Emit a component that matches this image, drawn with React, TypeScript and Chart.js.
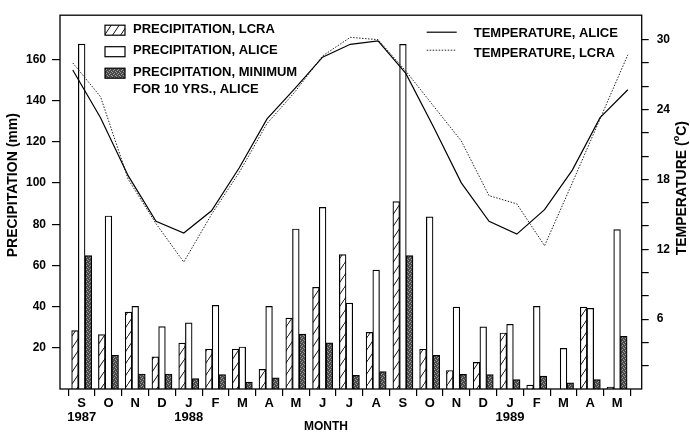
import { useEffect, useRef } from 'react';
import { Chart, registerables } from 'chart.js';

Chart.register(...registerables);

// Months from September 1987 through May 1989
const MONTHS = ['S', 'O', 'N', 'D', 'J', 'F', 'M', 'A', 'M', 'J', 'J', 'A', 'S', 'O', 'N', 'D', 'J', 'F', 'M', 'A', 'M'];
const YEARS = ['1987', '', '', '', '1988', '', '', '', '', '', '', '', '', '', '', '', '1989', '', '', '', ''];

// Monthly precipitation (mm)
const PRECIP_LCRA = [28.4, 26.4, 37.3, 15.6, 22.3, 19.3, 19.3, 9.5, 34.4, 49.4, 65.3, 27.5, 91, 19.3, 9.0, 12.9, 27.2, 1.9, 0, 39.8, 0.9];
const PRECIP_ALICE = [167.5, 84, 40.1, 30.3, 32.1, 40.6, 20.4, 40.1, 77.7, 88.2, 41.7, 57.7, 167.3, 83.6, 39.8, 30.2, 31.4, 40.1, 19.7, 39.2, 77.4];
const PRECIP_MIN_ALICE = [64.8, 16.4, 7.3, 7.3, 5.0, 7.0, 3.3, 5.4, 26.7, 22.4, 6.6, 8.4, 64.8, 16.3, 7.1, 7.0, 4.6, 6.3, 3.0, 4.6, 25.6];

// Monthly mean temperature (°C)
const TEMP_ALICE = [27.4, 23.3, 18.3, 14.4, 13.4, 15.3, 19.0, 23.2, 25.8, 28.5, 29.6, 29.9, 27.1, 22.5, 17.7, 14.4, 13.3, 15.4, 18.8, 23.3, 25.7];
const TEMP_LCRA = [28.0, 25.1, 18.0, 14.2, 10.9, 15.0, 18.6, 22.8, 25.5, 28.6, 30.2, 30.0, 27.3, 24.3, 21.3, 16.6, 15.9, 12.3, 17.7, 23.2, 28.7];

// Axis ticks
const PRECIP_TICKS = [20, 40, 60, 80, 100, 120, 140, 160];
const TEMP_TICKS = [2, 4, 6, 8, 10, 12, 14, 16, 18, 20, 22, 24, 26, 28, 30];
const TEMP_LABEL_STEP = 6;

// Key texts
const KEY_LCRA = ['PRECIPITATION, LCRA'];
const KEY_ALICE = ['PRECIPITATION, ALICE'];
const KEY_MIN = ['PRECIPITATION, MINIMUM', 'FOR 10 YRS., ALICE'];
const KEY_TEMP_ALICE = 'TEMPERATURE, ALICE';
const KEY_TEMP_LCRA = 'TEMPERATURE, LCRA';

const FONT = '"Liberation Sans", Arial, Helvetica, sans-serif';

// Month axis range; each bar of a monthly group sits on its own copy of
// this range, shifted by one bar width.
const X_MIN = -0.81;
const X_MAX = 20.92;
const BAR_SHIFT = 0.25;

function makeHatch(): CanvasPattern | string {
  const w = 8, h = 12;
  const c = document.createElement('canvas');
  c.width = w; c.height = h;
  const g = c.getContext('2d');
  if (!g) return '#fff';
  g.fillStyle = '#fff';
  g.fillRect(0, 0, w, h);
  g.strokeStyle = '#111';
  g.lineWidth = 1;
  g.beginPath();
  g.moveTo(-1, h + h / w);
  g.lineTo(w + 1, -h / w);
  g.stroke();
  return g.createPattern(c, 'repeat') || '#fff';
}

function makeStipple(): CanvasPattern | string {
  const c = document.createElement('canvas');
  c.width = 4; c.height = 4;
  const g = c.getContext('2d');
  if (!g) return '#555';
  g.fillStyle = '#4a4a4a';
  g.fillRect(0, 0, 4, 4);
  g.fillStyle = '#9a9a9a';
  [[0, 0], [2, 1], [1, 2], [3, 3]].forEach(([x, y]) => g.fillRect(x, y, 1, 1));
  return g.createPattern(c, 'repeat') || '#555';
}

const toPoints = (vals: number[]) => vals.map((y, x) => ({ x, y }));

const framePlugin = {
  id: 'frame',
  afterDatasetsDraw(chart: any) {
    const { ctx, chartArea: a } = chart;
    ctx.save();
    ctx.strokeStyle = '#000';
    ctx.lineWidth = 1.3;
    ctx.strokeRect(a.left, a.top, a.right - a.left, a.bottom - a.top);
    ctx.restore();
  },
};

type Part = { t: string; size: number; dy: number };

function drawParts(ctx: CanvasRenderingContext2D, parts: Part[], cx: number, cy: number, rotated: boolean) {
  ctx.save();
  ctx.translate(cx, cy);
  if (rotated) ctx.rotate(-Math.PI / 2);
  ctx.textBaseline = 'middle';
  ctx.textAlign = 'left';
  ctx.fillStyle = '#000';
  let total = 0;
  parts.forEach((p) => {
    ctx.font = `bold ${p.size}px ${FONT}`;
    total += ctx.measureText(p.t).width;
  });
  let x = -total / 2;
  parts.forEach((p) => {
    ctx.font = `bold ${p.size}px ${FONT}`;
    ctx.fillText(p.t, x, p.dy);
    x += ctx.measureText(p.t).width;
  });
  ctx.restore();
}

const titlesPlugin = {
  id: 'axisTitles',
  afterDraw(chart: any) {
    const { ctx, chartArea: a } = chart;
    drawParts(ctx, [{ t: 'PRECIPITATION (mm)', size: 14, dy: 0 }], a.left - 47, a.top + 170, true);
    drawParts(
      ctx,
      [
        { t: 'TEMPERATURE (', size: 14, dy: 0 },
        { t: 'o', size: 9, dy: -5 },
        { t: 'C)', size: 14, dy: 0 },
      ],
      a.right + 40,
      a.top + 173,
      true
    );
    drawParts(ctx, [{ t: 'MONTH', size: 12, dy: 0 }], a.left + 266, a.bottom + 38, false);
  },
};

const keyPlugin = {
  id: 'keyBoxes',
  afterDraw(chart: any) {
    const { ctx, chartArea: a } = chart;
    const ds = chart.data.datasets;
    ctx.save();
    ctx.font = `bold 13px ${FONT}`;
    ctx.textBaseline = 'middle';
    ctx.textAlign = 'left';
    const boxX = a.left + 45;
    const textX = a.left + 73;
    const rows = [
      { d: ds[0], y: a.top + 15, lines: KEY_LCRA },
      { d: ds[1], y: a.top + 36.5, lines: KEY_ALICE },
      { d: ds[2], y: a.top + 58, lines: KEY_MIN },
    ];
    rows.forEach((r) => {
      ctx.fillStyle = r.d.backgroundColor;
      ctx.fillRect(boxX, r.y - 5, 20, 10);
      ctx.strokeStyle = '#000';
      ctx.lineWidth = 1.2;
      ctx.strokeRect(boxX, r.y - 5, 20, 10);
      ctx.fillStyle = '#000';
      r.lines.forEach((ln, i) => ctx.fillText(ln, textX, r.y - 1 + i * 17));
    });
    const lineRows = [
      { d: ds[3], y: a.top + 18, text: KEY_TEMP_ALICE },
      { d: ds[4], y: a.top + 38, text: KEY_TEMP_LCRA },
    ];
    lineRows.forEach((r, i) => {
      ctx.save();
      ctx.strokeStyle = r.d.borderColor;
      ctx.lineWidth = r.d.borderWidth;
      ctx.setLineDash(r.d.borderDash || []);
      ctx.beginPath();
      ctx.moveTo(a.right - 215, r.y - 1 - i * 2);
      ctx.lineTo(a.right - 185, r.y - 1 - i * 2);
      ctx.stroke();
      ctx.restore();
      ctx.fillStyle = '#000';
      ctx.fillText(r.text, a.right - 168, r.y);
    });
    ctx.restore();
  },
};

export default function App() {
  const ref = useRef<HTMLCanvasElement>(null);

  useEffect(() => {
    const canvas = ref.current;
    if (!canvas) return;
    const tickFont = { family: FONT, size: 12, weight: 'bold' as const };
    const hiddenMonthAxis = (shift: number) => ({
      type: 'linear',
      display: false,
      offset: false,
      bounds: 'data',
      min: X_MIN + shift,
      max: X_MAX + shift,
    });
    const chart = new Chart(canvas, {
      type: 'bar',
      data: {
        datasets: [
          {
            type: 'bar',
            label: KEY_LCRA.join(' '),
            data: toPoints(PRECIP_LCRA),
            backgroundColor: makeHatch() as any,
            borderColor: '#000',
            borderWidth: 1.2,
            xAxisID: 'xL',
            yAxisID: 'y',
            order: 2,
          },
          {
            type: 'bar',
            label: KEY_ALICE.join(' '),
            data: toPoints(PRECIP_ALICE),
            backgroundColor: '#fff',
            borderColor: '#000',
            borderWidth: 1.2,
            xAxisID: 'x',
            yAxisID: 'y',
            order: 2,
          },
          {
            type: 'bar',
            label: KEY_MIN.join(' '),
            data: toPoints(PRECIP_MIN_ALICE),
            backgroundColor: makeStipple() as any,
            borderColor: '#000',
            borderWidth: 1.2,
            xAxisID: 'xR',
            yAxisID: 'y',
            order: 2,
          },
          {
            type: 'line',
            label: KEY_TEMP_ALICE,
            data: toPoints(TEMP_ALICE),
            borderColor: '#000',
            borderWidth: 1.2,
            pointRadius: 0,
            tension: 0,
            xAxisID: 'xT',
            yAxisID: 'yT',
            order: 1,
          },
          {
            type: 'line',
            label: KEY_TEMP_LCRA,
            data: toPoints(TEMP_LCRA),
            borderColor: '#222',
            borderWidth: 1,
            borderDash: [1.5, 1.5],
            pointRadius: 0,
            tension: 0,
            xAxisID: 'xT',
            yAxisID: 'yT',
            order: 1,
          },
        ] as any,
      },
      plugins: [framePlugin, titlesPlugin, keyPlugin],
      options: {
        responsive: false,
        animation: false,
        devicePixelRatio: 1,
        layout: { padding: { top: 6.7, left: 0, right: 0, bottom: 0 } },
        plugins: {
          legend: { display: false },
          tooltip: { enabled: false },
        },
        datasets: {
          bar: { grouped: false, barThickness: 6.7 },
        },
        scales: {
          x: {
            type: 'linear',
            position: 'bottom',
            offset: false,
            bounds: 'data',
            min: X_MIN,
            max: X_MAX,
            afterBuildTicks: (s: any) => {
              s.ticks = MONTHS.map((_, i) => ({ value: i }));
            },
            afterFit: (s: any) => {
              s.height = 44;
            },
            border: { display: false },
            grid: {
              offset: true,
              drawOnChartArea: false,
              drawTicks: true,
              tickLength: 7,
              color: '#000',
              lineWidth: 1.2,
            },
            ticks: {
              autoSkip: false,
              maxRotation: 0,
              padding: 0,
              color: '#000',
              font: { family: FONT, size: 13, weight: 'bold', lineHeight: '14px' },
              callback: (v: any) => {
                const i = Math.round(Number(v));
                return YEARS[i] ? [MONTHS[i], YEARS[i]] : MONTHS[i];
              },
            },
          },
          xL: hiddenMonthAxis(BAR_SHIFT),
          xR: hiddenMonthAxis(-BAR_SHIFT),
          xT: {
            type: 'linear',
            display: false,
            offset: false,
            bounds: 'data',
            min: -0.46,
            max: 20.5,
          },
          y: {
            type: 'linear',
            position: 'left',
            min: 0,
            max: 181.5,
            afterBuildTicks: (s: any) => {
              s.ticks = PRECIP_TICKS.map((value) => ({ value }));
            },
            afterFit: (s: any) => {
              s.width = 60;
            },
            border: { display: false },
            grid: {
              drawOnChartArea: false,
              tickLength: 8,
              color: '#000',
              lineWidth: 1.2,
            },
            ticks: {
              padding: 6,
              color: '#000',
              font: tickFont,
            },
          },
          yT: {
            type: 'linear',
            position: 'right',
            min: 0,
            max: 32.1,
            afterBuildTicks: (s: any) => {
              s.ticks = TEMP_TICKS.map((value) => ({ value }));
            },
            afterFit: (s: any) => {
              s.width = 48.3;
            },
            border: { display: false },
            grid: {
              drawOnChartArea: false,
              tickLength: 7,
              color: '#000',
              lineWidth: 1.2,
            },
            ticks: {
              padding: 8,
              color: '#000',
              font: tickFont,
              callback: (v: any) => (Number(v) % TEMP_LABEL_STEP === 0 ? String(v) : ''),
            },
          },
        },
      } as any,
    });
    return () => chart.destroy();
  }, []);

  return (
    <div style={{ position: 'fixed', left: 0, top: 0, width: 690, height: 433, background: '#fff' }}>
      <canvas ref={ref} width={690} height={433} style={{ display: 'block', width: 690, height: 433 }} />
    </div>
  );
}
